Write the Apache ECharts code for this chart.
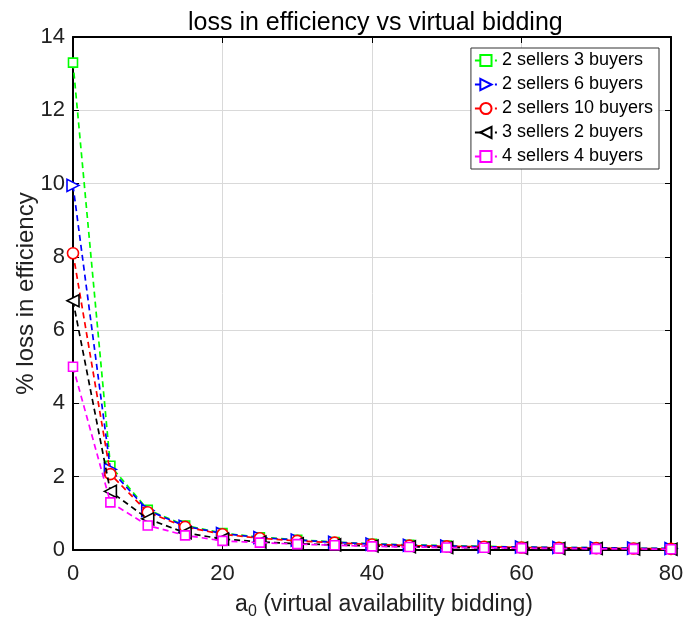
<!DOCTYPE html>
<html><head><meta charset="utf-8">
<script src="https://cdn.jsdelivr.net/npm/echarts@6/dist/echarts.min.js"></script>
<style>html,body{margin:0;padding:0;background:#fff}#c{width:683px;height:625px}</style>
</head><body><div id="c"></div>
<script>
const xValues = [0,5,10,15,20,25,30,35,40,45,50,55,60,65,70,75,80];
const seriesNames = ['2 sellers 3 buyers','2 sellers 6 buyers','2 sellers 10 buyers','3 sellers 2 buyers','4 sellers 4 buyers'];
const s2x3 = [13.3,2.3,1.1,0.67,0.46,0.35,0.28,0.22,0.17,0.14,0.12,0.1,0.08,0.07,0.06,0.05,0.04];
const s2x6 = [9.95,2.2,1.08,0.65,0.45,0.34,0.27,0.21,0.16,0.13,0.11,0.09,0.08,0.07,0.06,0.05,0.04];
const s2x10 = [8.1,2.07,1.03,0.63,0.43,0.32,0.25,0.2,0.15,0.12,0.1,0.09,0.07,0.06,0.05,0.04,0.03];
const s3x2 = [6.8,1.6,0.85,0.47,0.3,0.22,0.17,0.14,0.11,0.09,0.07,0.06,0.05,0.04,0.04,0.03,0.02];
const s4x4 = [5.0,1.3,0.67,0.4,0.25,0.2,0.16,0.13,0.1,0.08,0.07,0.06,0.05,0.04,0.03,0.03,0.02];
const allData = [s2x3,s2x6,s2x10,s3x2,s4x4];
const colors = ['#00ff00','#0000ff','#ff0000','#000000','#ff00ff'];
const symbols = ['rect','triangle','circle','triangle','rect'];
const rotations = [0,-90,0,90,0];
const symSizes = [9,12,11,12,9];

const chart = echarts.init(document.getElementById('c'));
const font = 'Liberation Sans, Arial, sans-serif';
const series = allData.map((d,i)=>({
  name: seriesNames[i], type:'line',
  data: xValues.map((x,j)=>[x,d[j]]),
  symbol: symbols[i], symbolRotate: rotations[i], symbolSize: symSizes[i],
  showAllSymbol: true,
  lineStyle:{color:colors[i], width:1.7, type:[6,4]},
  itemStyle:{color:'#fff', borderColor:colors[i], borderWidth:1.6},
  z: 3+i
}));
chart.setOption({
  animation:false,
  title:{text:'loss in efficiency vs virtual bidding', left:183, top:6,
    textStyle:{fontFamily:font, fontSize:25, fontWeight:'normal', color:'#000'}},
  legend:{
    right:24, top:48, orient:'vertical', itemGap:5, itemWidth:22, itemHeight:14,
    backgroundColor:'#fff', borderColor:'#333', borderWidth:1, padding:[3,6,3,3],
    textStyle:{fontFamily:font, fontSize:18, lineHeight:19, color:'#000'},
    data: seriesNames
  },
  grid:{left:73, right:12, top:37, bottom:75, show:false, outerBoundsMode:'none', containLabel:false},
  xAxis:[{
    type:'value', min:0, max:80, interval:20,
    name:'{a|a}{s|0}{a| (virtual availability bidding)}', nameLocation:'middle', nameGap:40, nameMoveOverlap:false,
    nameTextStyle:{padding:[0,0,0,24], rich:{a:{fontFamily:font,fontSize:23,color:'#222'},s:{fontFamily:font,fontSize:16,color:'#222',padding:[14,0,0,0]}}},
    axisLine:{show:true, onZero:false, lineStyle:{color:'#000', width:2}},
    axisTick:{inside:true, length:6, lineStyle:{color:'#000'}},
    axisLabel:{fontFamily:font, fontSize:22, color:'#222', margin:13},
    splitLine:{show:true, lineStyle:{color:'#d9d9d9', width:1}}
  },{
    type:'value', min:0, max:80, interval:20, position:'top',
    axisLine:{show:true, onZero:false, lineStyle:{color:'#000', width:2}},
    axisTick:{inside:true, length:6, lineStyle:{color:'#000'}},
    axisLabel:{show:false}, splitLine:{show:false}
  }],
  yAxis:[{
    type:'value', min:0, max:14, interval:2,
    name:'% loss in efficiency', nameLocation:'middle', nameGap:35, nameMoveOverlap:false,
    nameTextStyle:{fontFamily:font, fontSize:24, color:'#222'},
    axisLine:{show:true, onZero:false, lineStyle:{color:'#000', width:2}},
    axisTick:{inside:true, length:6, lineStyle:{color:'#000'}},
    axisLabel:{fontFamily:font, fontSize:22, color:'#222', margin:8},
    splitLine:{show:true, lineStyle:{color:'#d9d9d9', width:1}}
  },{
    type:'value', min:0, max:14, interval:2, position:'right',
    axisLine:{show:true, onZero:false, lineStyle:{color:'#000', width:2}},
    axisTick:{inside:true, length:6, lineStyle:{color:'#000'}},
    axisLabel:{show:false}, splitLine:{show:false}
  }],
  series: series
});
</script></body></html>
